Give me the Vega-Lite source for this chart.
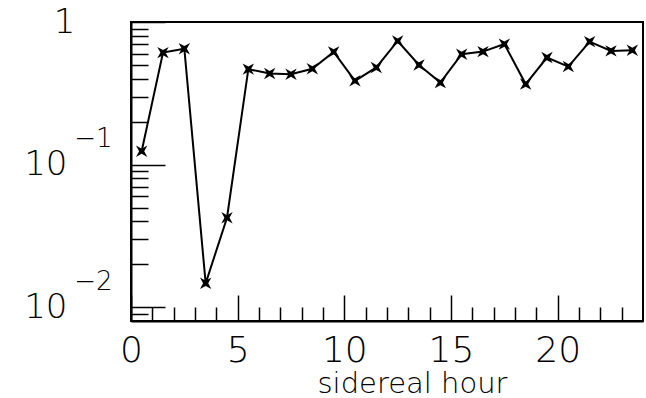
{
  "$schema": "https://vega.github.io/schema/vega-lite/v6.json",
  "width": 512,
  "height": 299,
  "autosize": "none",
  "padding": {"left": 131, "top": 22, "right": 3, "bottom": 77},
  "background": "white",
  "config": {
    "view": {"stroke": "black", "strokeWidth": 2},
    "axis": {"labelFont": "DejaVu Sans", "titleFont": "DejaVu Sans", "labelColor": "black", "titleColor": "black", "domainColor": "black", "tickColor": "black", "grid": false, "labelFontWeight": 200, "titleFontWeight": 200, "labelOverlap": false, "labelBound": false, "labelFlush": false}
  },
  "data": {"values": [
    {"hour": 0.5, "value": 0.124}, {"hour": 1.5, "value": 0.61}, {"hour": 2.5, "value": 0.65},
    {"hour": 3.5, "value": 0.0147}, {"hour": 4.5, "value": 0.0424}, {"hour": 5.5, "value": 0.467},
    {"hour": 6.5, "value": 0.435}, {"hour": 7.5, "value": 0.43}, {"hour": 8.5, "value": 0.47},
    {"hour": 9.5, "value": 0.617}, {"hour": 10.5, "value": 0.387}, {"hour": 11.5, "value": 0.48},
    {"hour": 12.5, "value": 0.736}, {"hour": 13.5, "value": 0.5}, {"hour": 14.5, "value": 0.376},
    {"hour": 15.5, "value": 0.594}, {"hour": 16.5, "value": 0.62}, {"hour": 17.5, "value": 0.7},
    {"hour": 18.5, "value": 0.367}, {"hour": 19.5, "value": 0.563}, {"hour": 20.5, "value": 0.487},
    {"hour": 21.5, "value": 0.728}, {"hour": 22.5, "value": 0.627}, {"hour": 23.5, "value": 0.634}
  ]},
  "layer": [
    {
      "mark": {"type": "line", "color": "black", "strokeWidth": 2},
      "encoding": {
        "x": {"field": "hour", "type": "quantitative", "scale": {"domain": [0, 24], "nice": false},
          "axis": {"orient": "bottom", "values": [0, 5, 10, 15, 20],
            "tickSize": -26, "tickWidth": 1.5, "domainWidth": 2,
            "labelFontSize": 36, "labelPadding": 38,
            "title": "sidereal hour", "titleFontSize": 29, "titleX": 281, "titleY": 71, "titleAlign": "center", "titleBaseline": "alphabetic", "titleAnchor": null}},
        "y": {"field": "value", "type": "quantitative", "scale": {"type": "log", "domain": [0.008, 1], "nice": false},
          "axis": {"orient": "left", "title": null,
            "values": [0.009, 0.01, 0.02, 0.03, 0.04, 0.05, 0.06, 0.07, 0.08, 0.09, 0.1, 0.2, 0.3, 0.4, 0.5, 0.6, 0.7, 0.8, 0.9, 1],
            "labelExpr": "abs(datum.value - 1) < 1e-6 ? '1' : (abs(datum.value - 0.1) < 1e-9 || abs(datum.value - 0.01) < 1e-9) ? '10' : ''",
            "tickSize": {"condition": {"test": "abs(log(datum.value)/LN10 - round(log(datum.value)/LN10)) < 0.001", "value": -34}, "value": -17},
            "tickWidth": 1.5, "domainWidth": 2,
            "labelFontSize": 34, "labelBaseline": "middle",
            "labelPadding": {"condition": {"test": "abs(datum.value - 1) < 1e-6", "value": 90}, "value": 98}}}
      }
    },
    {
      "mark": {"type": "point", "shape": "M-1,-1L0,-0.45L1,-1L0.45,0L1,1L0,0.45L-1,1L-0.45,0Z", "filled": true, "color": "black", "size": 130, "opacity": 1},
      "encoding": {
        "x": {"field": "hour", "type": "quantitative",
          "axis": {"orient": "bottom", "title": null, "labels": false, "domain": false,
            "values": [1,2,3,4,6,7,8,9,11,12,13,14,16,17,18,19,21,22,23],
            "tickSize": -14, "tickWidth": 1.5}},
        "y": {"field": "value", "type": "quantitative",
          "axis": {"orient": "left", "title": null, "ticks": false, "domain": false,
            "values": [0.1, 0.01],
            "labelExpr": "abs(datum.value - 0.1) < 1e-9 ? '−1' : '−2'",
            "labelFontSize": 26, "labelBaseline": "middle", "labelPadding": 19, "labelOffset": -26}}
      }
    }
  ],
  "resolve": {"axis": {"x": "independent", "y": "independent"}}
}
